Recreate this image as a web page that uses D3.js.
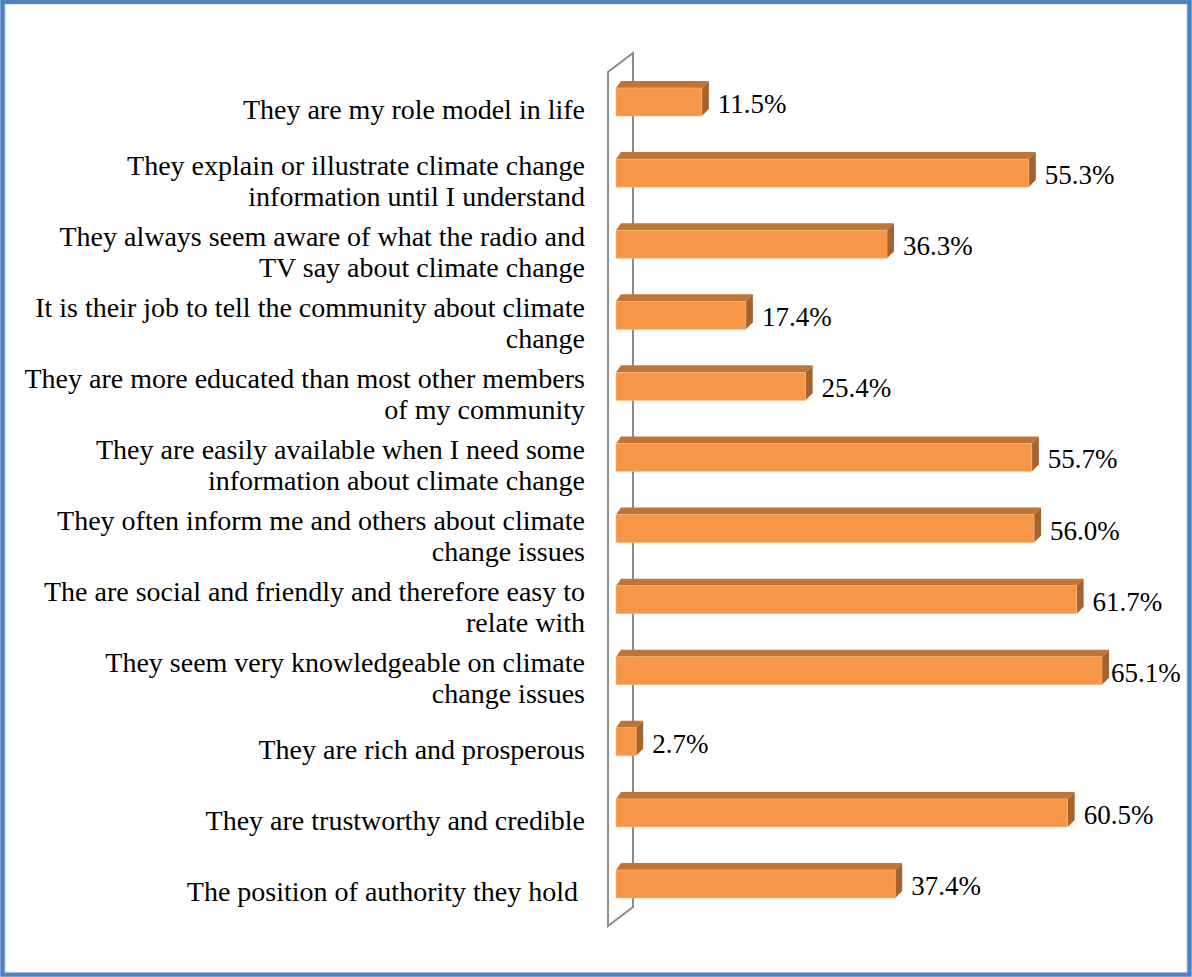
<!DOCTYPE html>
<html>
<head>
<meta charset="utf-8">
<script src="https://cdn.jsdelivr.net/npm/d3@7"></script>
<style>
  body { margin: 0; background: #fff; }
  svg { display: block; }
</style>
</head>
<body>
<svg id="chart"></svg>
<script>
// categories, top to bottom ('\n' marks the line break in the label)
const categories = [
  'They are my role model in life',
  'They explain or illustrate climate change\ninformation until I understand',
  'They always seem aware of what the radio and\nTV say about climate change',
  'It is their job to tell the community about climate\nchange',
  'They are more educated than most other members\nof my community',
  'They are easily available when I need some\ninformation about climate change',
  'They often inform me and others about climate\nchange issues',
  'The are social and friendly and therefore easy to\nrelate with',
  'They seem very knowledgeable on climate\nchange issues',
  'They are rich and prosperous',
  'They are trustworthy and credible',
  'The position of authority they hold '
]
const values = [11.5, 55.3, 36.3, 17.4, 25.4, 55.7, 56.0, 61.7, 65.1, 2.7, 60.5, 37.4]

let width = 1192
let height = 977

const svg = d3.select('#chart')
    .attr('width', width)
    .attr('height', height)

// outer frame
svg.append('rect')
    .attr('x', 2.5).attr('y', 2).attr('width', width - 5).attr('height', height - 4.5)
    .attr('fill', '#fff')
    .attr('stroke', '#4F81BD')
    .attr('stroke-width', 4.5)
svg.append('rect')
    .attr('x', 5.5).attr('y', 4.5).attr('width', width - 11).attr('height', height - 9.5)
    .attr('fill', 'none')
    .attr('stroke', '#dce6f2')
    .attr('stroke-width', 1)

let x = d3.scaleLinear().domain([0, 65.1]).range([616, 1102])
let y = d3.scalePoint().domain(categories).range([102, 884])

let barH = 28
let dx = 7, dy = -7
let font = '"Liberation Serif", "Times New Roman", serif'

// side wall of the 3D plot
let wallFront = x(0) - 8, wallBack = x(0) + 17
let wallTop = 72, wallBottom = 926, wallDy = -19
svg.append('path')
    .attr('d', `M${wallFront},${wallTop} L${wallFront},${wallBottom} L${wallBack},${wallBottom + wallDy}` +
               ` L${wallBack},${wallTop + wallDy} Z`)
    .attr('fill', 'none')
    .attr('stroke', '#8c8c8c')
    .attr('stroke-width', 2)

const bars = svg.append('g')

categories.forEach((c, i) => {
    let v = values[i]
    let x0 = x(0), x1 = x(v)
    let yt = y(c) - barH / 2, yb = y(c) + barH / 2
    let g = bars.append('g')
    // top face
    g.append('path')
        .attr('d', `M${x0},${yt} L${x0 + dx - 2},${yt + dy} L${x1 + dx},${yt + dy} L${x1},${yt} Z`)
        .attr('fill', '#c07538')
    // side face
    g.append('path')
        .attr('d', `M${x1},${yt} L${x1 + dx},${yt + dy} L${x1 + dx},${yb + dy} L${x1},${yb} Z`)
        .attr('fill', '#a6632e')
    // front face
    g.append('rect')
        .attr('x', x0).attr('y', yt)
        .attr('width', x1 - x0).attr('height', barH)
        .attr('fill', '#f79646')
        .attr('stroke', '#fbb987')
        .attr('stroke-width', 0.6)

    // value label
    let t = svg.append('text')
        .attr('x', x1 + dx + 9)
        .attr('y', y(c) + 2)
        .attr('dominant-baseline', 'central')
        .style('font-family', font)
        .style('font-size', '27px')
        .attr('fill', '#000')
        .text(v.toFixed(1) + '%')
    let len = t.node().getComputedTextLength()
    if (x1 + dx + 9 + len > width - 8) t.attr('x', x1 + dx + 2)

    // category label
    let lines = c.split('\n')
    let lh = 31
    let lab = svg.append('text')
        .attr('text-anchor', 'end')
        .attr('dominant-baseline', 'central')
        .style('font-family', font)
        .style('font-size', '28px')
        .style('white-space', 'pre')
        .attr('fill', '#000')
    lines.forEach((ln, j) => {
        lab.append('tspan')
            .attr('x', 585)
            .attr('y', y(c) + 7 + (j - (lines.length - 1) / 2) * lh)
            .text(ln)
    })
})
</script>
</body>
</html>
